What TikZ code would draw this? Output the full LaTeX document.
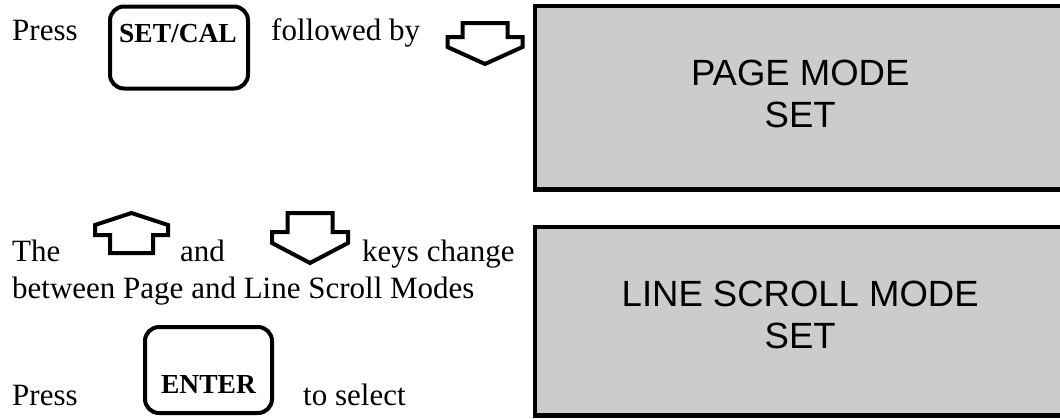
\documentclass[tikz,border=0pt]{standalone}
\usepackage{fontspec}
\setmainfont{Liberation Serif}
\newfontfamily\lcdfont{Liberation Sans}
\usepackage{tikz}

\definecolor{lcdgray}{HTML}{CCCCCC}

\tikzset{
  txt/.style={anchor=base west, inner sep=0pt, font=\fontsize{31}{37}\selectfont},
  keybox/.style={draw, line width=4pt, rounded corners=14pt, inner sep=0pt},
  keylabel/.style={anchor=base, inner sep=0pt, font=\bfseries\fontsize{27.5}{33}\selectfont},
  keyshape/.style={draw, line width=4pt},
  lcd/.style={fill=lcdgray, anchor=north west, align=center, inner sep=0pt,
    font=\lcdfont\fontsize{36.5}{42}\selectfont},
  lcdframe/.style={line width=4.5pt}
}

\begin{document}
\begin{tikzpicture}[x=1pt,y=-1pt]
        \useasboundingbox (0,0) rectangle (1060,418);

        % top row
        \node[txt] (press1) at (12,40) {Press};
        \node[keybox, minimum width=138pt, minimum height=82pt] (setcal) at (179,47.5) {};
        \node[keylabel] (setcaltxt) at (178,42) {SET/CAL};
        \node[txt] (followed) at (271,40) {followed by};
        \draw[keyshape, shift={(485,0)}] (-22.5,23) -- (22.5,23) -- (22.5,37) -- (37.5,37)
            -- (37.5,47) -- (0,64) -- (-37.5,47) -- (-37.5,37) -- (-22.5,37) -- cycle;

        % middle rows
        \node[txt] (the) at (12,261) {The};
        \draw[keyshape, shift={(131.5,0)}] (0,213) -- (36.5,225) -- (36.5,235) -- (21.5,235)
            -- (21.5,253) -- (-21.5,253) -- (-21.5,235) -- (-36.5,235) -- (-36.5,225) -- cycle;
        \node[txt] (and) at (180,261) {and};
        \draw[keyshape, shift={(310,0)}] (-22.5,213) -- (22.5,213) -- (22.5,232) -- (38,232)
            -- (38,243) -- (0,263) -- (-38,243) -- (-38,232) -- (-22.5,232) -- cycle;
        \node[txt] (keys) at (362,261) {keys change};
        \node[txt] (between) at (12,298) {between Page and Line Scroll Modes};

        % bottom row
        \node[txt] (press2) at (12,405) {Press};
        \node[keybox, minimum width=127pt, minimum height=86pt] (enter) at (208.5,370) {};
        \node[keylabel] (entertxt) at (208.5,393) {ENTER};
        \node[txt] (toselect) at (303,405) {to select};

        % displays
        \node[lcd, minimum width=530pt, minimum height=183pt, text depth=7pt] (pagedisp) at (535,6) {PAGE MODE\\SET};
        \draw[lcdframe] (pagedisp.north east) -- (pagedisp.north west) -- (pagedisp.south west) -- (pagedisp.south east);
        \node[lcd, minimum width=530pt, minimum height=188pt, text depth=12pt] (linedisp) at (535,227) {LINE SCROLL MODE\\SET};
        \draw[lcdframe] (linedisp.north east) -- (linedisp.north west) -- (linedisp.south west) -- (linedisp.south east);
    \end{tikzpicture}
\end{document}
